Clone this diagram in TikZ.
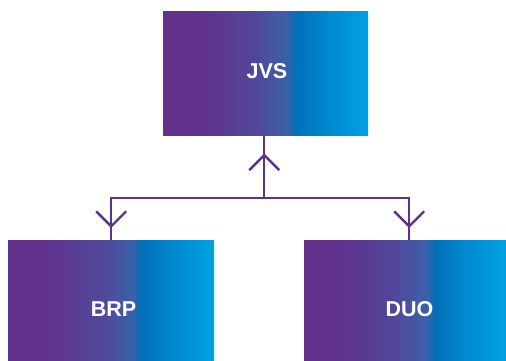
\documentclass[tikz,border=0pt]{standalone}
\usepackage{fontspec}
\setmainfont{Liberation Sans}
\usetikzlibrary{arrows.meta,decorations.markings}
\definecolor{gA}{HTML}{633189}
\definecolor{gB}{HTML}{603390}
\definecolor{gC}{HTML}{52479A}
\definecolor{gD}{HTML}{3C60A8}
\definecolor{gE}{HTML}{0071B9}
\definecolor{gF}{HTML}{0088CF}
\definecolor{gG}{HTML}{00A2E4}
\definecolor{linec}{HTML}{5F3289}
\pgfdeclarehorizontalshading{orggrad}{100bp}{color(0bp)=(gA); color(25bp)=(gA); color(35bp)=(gB); color(47.5bp)=(gC); color(55bp)=(gD); color(57.5bp)=(gE); color(65bp)=(gF); color(75bp)=(gG); color(100bp)=(gG)}
\begin{document}
\begin{tikzpicture}[x=1pt,y=-1pt,
  orgbox/.style={draw=none, shading=orggrad, shading angle=0, rectangle, inner sep=0pt, anchor=north west},
  lbl/.style={text=white, font=\fontsize{21.5}{24}\selectfont\bfseries, inner sep=0pt},
  conn/.style={draw=linec, line width=2.4pt},
  barbmark/.style={postaction={decorate}, decoration={markings, mark=at position #1 with {\arrow{Straight Barb[length=15pt,width=30pt,line width=2.4pt]}}}},
  barbrev/.style={postaction={decorate}, decoration={markings, mark=at position #1 with {\arrowreversed{Straight Barb[length=15pt,width=30pt,line width=2.4pt]}}}},
]
\useasboundingbox (0,0) rectangle (506,360);
% boxes
\node[orgbox, minimum width=205pt, minimum height=124pt] (jvs) at (163,11) {};
\node[orgbox, minimum width=206pt, minimum height=124pt] (brp) at (8,240) {};
\node[orgbox, minimum width=202pt, minimum height=124pt] (duo) at (304,240) {};
\node[lbl] (jvst) at (267,71) {JVS};
\node[lbl] (brpt) at (113.5,309) {BRP};
\node[lbl] (duot) at (409.5,309) {DUO};
\coordinate (junc) at ([xshift=-1.5pt]jvs.south |- 0,198);
% connectors
\draw[conn, barbrev=18pt] ([xshift=-1.5pt]jvs.south) -- (junc);
\draw[conn, barbmark=-12pt] (junc) -| (brp.north);
\draw[conn, barbmark=-12pt] (junc) -| ([xshift=4pt]duo.north);
\end{tikzpicture}
\end{document}
